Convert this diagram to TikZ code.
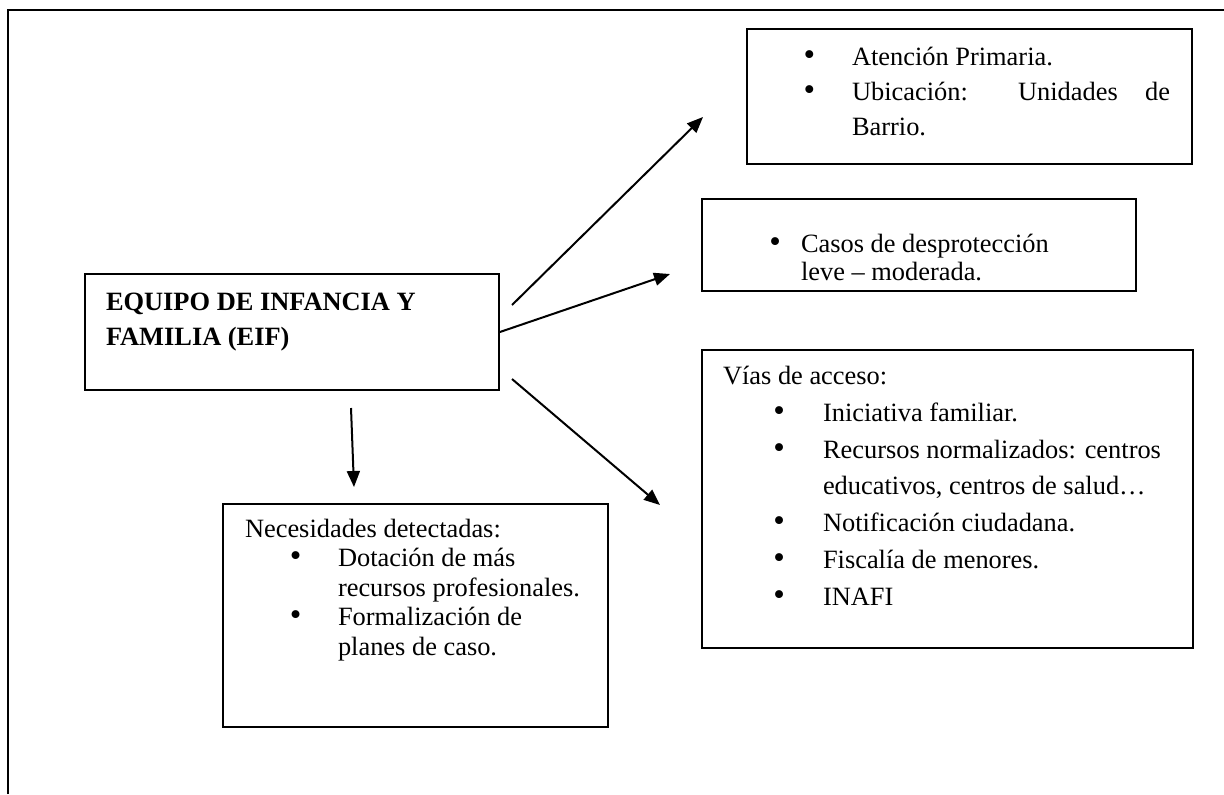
\documentclass[tikz,border=0pt]{standalone}
\usepackage{fontspec}
\setmainfont{Liberation Serif}
\usetikzlibrary{arrows.meta,positioning,fit}
\newcommand\bl[1]{\llap{\scalebox{1.25}{\textbullet}\hspace*{#1}}}
\tikzset{
  base/.style={font={\fontsize{13.2}{17.5}\selectfont}, align=left, inner sep=0pt, outer sep=0mm},
  box/.style={rectangle, draw=black, line width=0.9pt, inner sep=0pt},
  txt/.style={base, anchor=base west},
  arrow/.style={-{Triangle[length=8pt,width=6.5pt]}, line width=1pt, color=black}
}
\begin{document}
\begin{tikzpicture}[x=0.5pt, y=-0.5pt]
  \useasboundingbox (0,0) rectangle (1224,794);
  % frame of the page
  \draw[line width=1.1pt] (8,794) -- (8,10) -- (1224,10);

  % boxes
  \node[box, fit={(85,274) (499,390)}] (eif) {};
  \node[box, fit={(747,29) (1192,164)}] (prim) {};
  \node[box, fit={(702,199) (1136,291)}] (casos) {};
  \node[box, fit={(702,350) (1193,648)}] (vias) {};
  \node[box, fit={(223,504) (608,727)}] (nec) {};

  % texts (placed at the baseline of their last line)
  \node[txt, font={\bfseries\fontsize{13.2}{17.5}\selectfont}] (eiftxt) at (106,345)
    {EQUIPO DE INFANCIA Y\\FAMILIA (EIF)};
  \node[txt] (primtxt) at (852,135)
    {\bl{18.4pt}Atención Primaria.\\
     \bl{18.4pt}\makebox[159pt][s]{Ubicación: Unidades de}\\
     Barrio.};
  \node[txt, font={\fontsize{13.2}{14}\selectfont}] (casostxt) at (801,280)
    {\bl{10pt}Casos de desprotección\\leve – moderada.};
  \node[txt, font={\fontsize{13.2}{18.35}\selectfont}] (viastxt) at (723,605)
    {Vías de acceso:\\
     \hspace*{50pt}\bl{19pt}Iniciativa familiar.\\
     \hspace*{50pt}\bl{19pt}Recursos normalizados: centros\\
     \hspace*{50pt}educativos, centros de salud…\\
     \hspace*{50pt}\bl{19pt}Notificación ciudadana.\\
     \hspace*{50pt}\bl{19pt}Fiscalía de menores.\\
     \hspace*{50pt}\bl{19pt}INAFI};
  \node[txt, font={\fontsize{13.2}{14.75}\selectfont}] (nectxt) at (245,655)
    {Necesidades detectadas:\\
     \hspace*{46.5pt}\bl{18.3pt}Dotación de más\\
     \hspace*{46.5pt}recursos profesionales.\\
     \hspace*{46.5pt}\bl{18.3pt}Formalización de\\
     \hspace*{46.5pt}planes de caso.};

  % free ends of the arrows
  \coordinate (s1) at (512,305);
  \coordinate (e1) at (703,117);
  \coordinate (e2) at (670,274);
  \coordinate (s3) at (512,379);
  \coordinate (e3) at (660,505);
  \coordinate (s4) at (351,408);
  \coordinate (e4) at (354,487);

  \draw[arrow] (s1) -- (e1);
  \draw[arrow] (eif.east) -- (e2);
  \draw[arrow] (s3) -- (e3);
  \draw[arrow] (s4) -- (e4);
\end{tikzpicture}
\end{document}
